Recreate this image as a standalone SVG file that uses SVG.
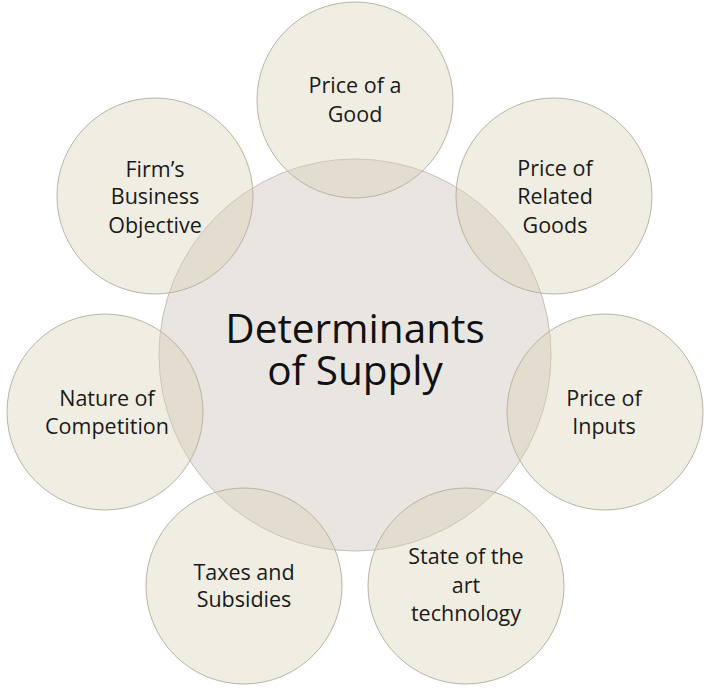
<svg xmlns="http://www.w3.org/2000/svg" width="720" height="694" viewBox="0 0 720 694">
<style>
.bg{fill:#ffffff}
.center{fill:#e9e5e0;stroke:#c4bfb7;stroke-width:1}
.outer{fill:#d9d3b8;fill-opacity:0.4;stroke:#b8b3a5;stroke-width:1}
.lbl{font-family:"Open Sans","Liberation Sans",sans-serif;font-size:21.5px;fill:#1a1a1a;text-anchor:middle;font-variant-ligatures:none}
.big{font-family:"Open Sans","Liberation Sans",sans-serif;font-size:40.5px;fill:#111111;text-anchor:middle;font-variant-ligatures:none}
</style>
<rect class="bg" x="0" y="0" width="720" height="694"/>
<g id="center-node">
<circle class="center" cx="355" cy="355" r="196"/>
<text class="big"><tspan x="355" y="343">Determinants</tspan><tspan x="355" y="385">of Supply</tspan></text>
</g>
<g id="node-price-good">
<circle class="outer" cx="355" cy="100" r="98"/>
<text class="lbl"><tspan x="355" y="93">Price of a</tspan><tspan x="355" y="122">Good</tspan></text>
</g>
<g id="node-related-goods">
<circle class="outer" cx="554" cy="196" r="98"/>
<text class="lbl"><tspan x="555" y="176">Price of</tspan><tspan x="555" y="204">Related</tspan><tspan x="555" y="233">Goods</tspan></text>
</g>
<g id="node-inputs">
<circle class="outer" cx="605" cy="412" r="98"/>
<text class="lbl"><tspan x="604" y="406">Price of</tspan><tspan x="604" y="434">Inputs</tspan></text>
</g>
<g id="node-technology">
<circle class="outer" cx="466" cy="586" r="98"/>
<text class="lbl"><tspan x="466" y="564">State of the</tspan><tspan x="466" y="593">art</tspan><tspan x="466" y="621">technology</tspan></text>
</g>
<g id="node-taxes">
<circle class="outer" cx="244" cy="586" r="98"/>
<text class="lbl"><tspan x="244" y="580">Taxes and</tspan><tspan x="244" y="607">Subsidies</tspan></text>
</g>
<g id="node-competition">
<circle class="outer" cx="105" cy="412" r="98"/>
<text class="lbl"><tspan x="107" y="406">Nature of</tspan><tspan x="107" y="434">Competition</tspan></text>
</g>
<g id="node-objective">
<circle class="outer" cx="155" cy="196" r="98"/>
<text class="lbl"><tspan x="155" y="177">Firm’s</tspan><tspan x="155" y="204">Business</tspan><tspan x="155" y="233">Objective</tspan></text>
</g>
<g id="connectors"></g>
</svg>
